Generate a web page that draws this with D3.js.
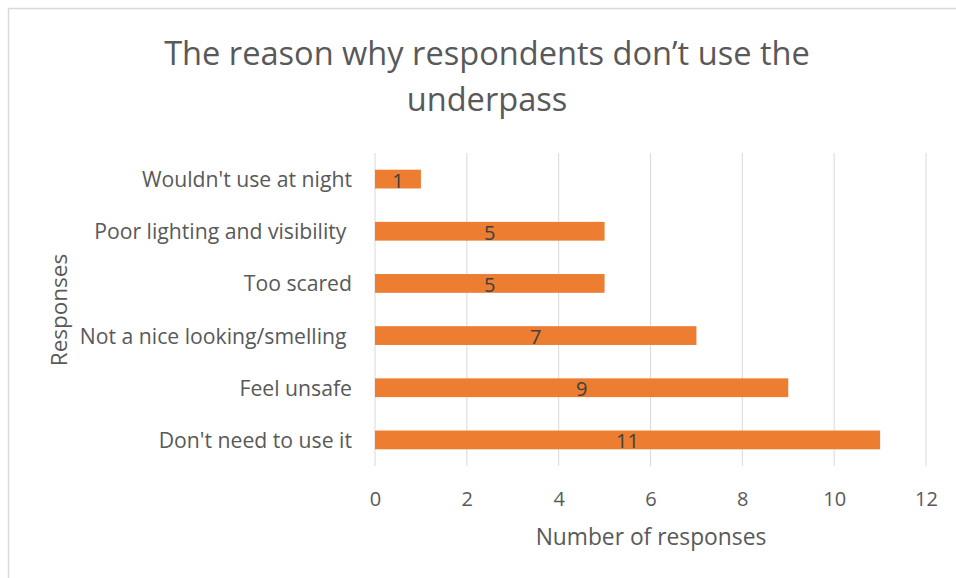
<!DOCTYPE html>
<html>
<head>
<meta charset="utf-8">
<script src="https://cdn.jsdelivr.net/npm/d3@7"></script>
<style>
  body { margin: 0; background: #fff; }
  text { font-family: "Open Sans", sans-serif; }
</style>
</head>
<body>
<div id="chart"></div>
<script>
// data
var categories = ["Wouldn't use at night", "Poor lighting and visibility ", "Too scared",
                  "Not a nice looking/smelling ", "Feel unsafe", "Don't need to use it"];
var values = [1, 5, 5, 7, 9, 11];
var xTicks = [0, 2, 4, 6, 8, 10, 12];
var titleLines = ["The reason why respondents don\u2019t use the", "underpass"];

var width = 956, height = 578;

var svg = d3.select("#chart")
  .append("svg")
  .attr("width", width)
  .attr("height", height);

// chart frame
svg.append("rect")
  .attr("x", 8.5)
  .attr("y", 8.5)
  .attr("width", width)
  .attr("height", height)
  .attr("fill", "white")
  .attr("stroke", "#d9d9d9")
  .attr("stroke-width", 1.5);

var x = d3.scaleLinear().domain([0, 12]).range([375, 926]);
var y = d3.scaleBand().domain(categories).range([153, 466])
  .paddingInner(0.64).paddingOuter(0.32);

// title
svg.append("g").selectAll("text").data(titleLines)
  .enter().append("text")
  .attr("x", 487)
  .attr("y", function(d, i) { return 65 + i * 46; })
  .attr("text-anchor", "middle")
  .style("font-size", "32.6px")
  .style("fill", "#595959")
  .text(function(d) { return d; });

// gridlines
svg.append("g").selectAll("line").data(xTicks)
  .enter().append("line")
  .attr("x1", function(d) { return x(d); })
  .attr("x2", function(d) { return x(d); })
  .attr("y1", 153)
  .attr("y2", 466)
  .attr("stroke", "#d9d9d9")
  .attr("stroke-width", 1);

// x axis (labels only)
var xAxis = svg.append("g")
  .attr("transform", "translate(0,466)")
  .call(d3.axisBottom(x).tickValues(xTicks).tickSize(0).tickPadding(0));
xAxis.select(".domain").remove();
xAxis.selectAll("text")
  .attr("y", 40)
  .attr("dy", null)
  .style("font-size", "20px")
  .style("fill", "#595959");

// y axis (labels only)
var yAxis = svg.append("g")
  .attr("transform", "translate(352,0)")
  .call(d3.axisLeft(y).tickSize(0).tickPadding(0));
yAxis.select(".domain").remove();
yAxis.selectAll("text")
  .attr("x", 0)
  .attr("dy", "8px")
  .attr("y", 0)
  .attr("text-anchor", "end")
  .style("white-space", "pre")
  .attr("xml:space", "preserve")
  .style("font-size", "21.2px")
  .style("fill", "#595959");

// bars
svg.append("g").selectAll("rect").data(values)
  .enter().append("rect")
  .attr("x", x(0))
  .attr("y", function(d, i) { return y(categories[i]); })
  .attr("width", function(d) { return x(d) - x(0); })
  .attr("height", y.bandwidth())
  .attr("fill", "#ed7d31");

// data labels
svg.append("g").selectAll("text").data(values)
  .enter().append("text")
  .attr("x", function(d) { return (x(0) + x(d)) / 2; })
  .attr("y", function(d, i) { return y(categories[i]) + y.bandwidth() / 2 + 8.5; })
  .attr("text-anchor", "middle")
  .style("font-size", "20px")
  .style("fill", "#404040")
  .text(function(d) { return d; });

// axis titles
svg.append("text")
  .attr("x", 651)
  .attr("y", 545)
  .attr("text-anchor", "middle")
  .style("font-size", "22.8px")
  .style("fill", "#595959")
  .text("Number of responses");

svg.append("text")
  .attr("transform", "translate(67,310)rotate(-90)")
  .attr("text-anchor", "middle")
  .style("font-size", "22.5px")
  .style("fill", "#595959")
  .text("Responses");
</script>
</body>
</html>
